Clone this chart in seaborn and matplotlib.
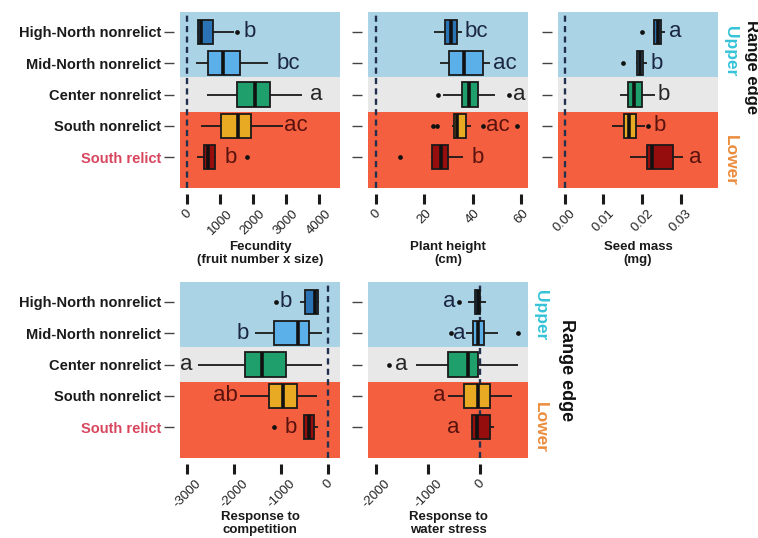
import numpy as np
import pandas as pd
import matplotlib
matplotlib.use("Agg")
import matplotlib.pyplot as plt
import seaborn as sns

sns.set_style("ticks")
plt.rcParams['font.family'] = ['Liberation Sans', 'DejaVu Sans']
plt.rcParams['axes.unicode_minus'] = False

groups = ["High-North nonrelict", "Mid-North nonrelict", "Center nonrelict",
          "South nonrelict", "South relict"]
box_colors = ["#2a73b5", "#5cb0ea", "#1f9f6c", "#e8aa22", "#960d0d"]

# five-number summaries per group: whisker low, Q1, median, Q3, whisker high
fecundity_box = [[300, 330, 430, 800, 1420],
                 [260, 630, 1100, 1600, 2460],
                 [600, 1530, 2060, 2510, 3470],
                 [420, 1020, 1560, 1940, 2920],
                 [290, 515, 650, 850, 880]]
fecundity_out = [[1510], [], [], [], [1810]]
fecundity_letters = ["b", "bc", "a", "ac", "b"]
fecundity_letter_x = [1700, 2720, 3730, 2930, 1150]

height_box = [[24.0, 28.5, 30.9, 33.3, 35.3],
              [26.4, 30.1, 36.4, 44.3, 47.0],
              [27.5, 35.6, 38.4, 42.2, 49.1],
              [31.5, 32.3, 33.3, 37.0, 39.2],
              [22.8, 23.0, 26.8, 29.6, 36.0]]
height_out = [[], [], [25.5, 54.8], [23.6, 25.0, 44.3, 58.0], [9.9]]
height_letters = ["bc", "ac", "a", "ac", "b"]
height_letter_x = [36.7, 48.4, 56.6, 45.4, 39.5]

seed_box = [[0.0229, 0.0232, 0.0241, 0.0249, 0.0260],
            [0.0184, 0.0186, 0.0195, 0.0203, 0.0212],
            [0.0143, 0.0164, 0.0180, 0.0201, 0.0234],
            [0.0121, 0.0154, 0.0166, 0.0184, 0.0207],
            [0.0169, 0.0212, 0.0225, 0.0281, 0.0307]]
seed_out = [[0.0201], [0.0151], [], [0.0215], []]
seed_letters = ["a", "b", "b", "b", "a"]
seed_letter_x = [0.0270, 0.0222, 0.0241, 0.0230, 0.0323]

competition_box = [[-596, -489, -277, -206, -200],
                   [-1553, -1149, -645, -404, -135],
                   [-2759, -1766, -1397, -894, -135],
                   [-1872, -1255, -950, -667, -241],
                   [-520, -511, -400, -291, -206]]
competition_out = [[-1113], [], [], [], [-1142]]
competition_letters = ["b", "b", "a", "ab", "b"]
competition_letter_x = [-1021, -1943, -3149, -2440, -915]

water_box = [[-237, -96, -45, 0, 109],
             [-269, -141, -32, 83, 340],
             [-1237, -622, -224, -45, 724],
             [-609, -301, -32, 192, 609],
             [-173, -147, -64, 192, 276]]
water_out = [[-404], [-558, 724], [-1750], [], []]
water_letters = ["a", "a", "a", "a", "a"]
water_letter_x = [-705, -513, -1635, -897, -641]

W, H = 758, 538
fig = plt.figure(figsize=(W / 100, H / 100), dpi=100)


def px_axes(left, top, right, bottom):
    return fig.add_axes([left / W, 1 - bottom / H, (right - left) / W, (bottom - top) / H])


band_colors = ["#abd3e6", "#e8e8e8", "#f4603f"]
band_edges = [-0.63, 1.445, 2.565, 4.98]
letter_colors = ["#1b2740", "#1b2740", "#262626", "#5a120e", "#5a120e"]


def draw(ax, box, outs, letters, letter_x, xlim, ticks, ticklabels, xlabel):
    rows = [(g, v) for g, vals in zip(groups, box) for v in vals]
    df = pd.DataFrame(rows, columns=["grp", "val"])
    for i, c in enumerate(band_colors):
        ax.axhspan(band_edges[i], band_edges[i + 1], color=c, lw=0, zorder=0)
    ax.axvline(0, color="#223050", lw=1.7, ls=(0, (2.6, 1.8)), zorder=0.5)
    sns.boxplot(data=df, x="val", y="grp", hue="grp", order=groups, hue_order=groups,
                palette=box_colors, saturation=1, whis=(0, 100), showfliers=False,
                showcaps=False, width=0.77, linewidth=1.3, linecolor="#1a1a1a", legend=False,
                medianprops={"linewidth": 2.6, "color": "#111111"}, ax=ax)
    orows = [(g, v) for g, vals in zip(groups, outs) for v in vals]
    if orows:
        odf = pd.DataFrame(orows, columns=["grp", "val"])
        sns.stripplot(data=odf, x="val", y="grp", order=groups, jitter=False,
                      color="#111111", size=3.4, linewidth=0, orient="h", ax=ax)
    for i, (t, x) in enumerate(zip(letters, letter_x)):
        ax.text(x, i, t, ha="left", va="center", fontsize=16, color=letter_colors[i], zorder=5)
    ax.set_xlim(*xlim)
    ax.set_ylim(band_edges[-1], band_edges[0])
    ax.set_xticks(ticks)
    ax.set_xticklabels(ticklabels)
    ax.set_ylabel("")
    ax.set_xlabel(xlabel, fontsize=9.5, fontweight="bold", linespacing=1.1, color="#1a1a1a")
    ax.xaxis.set_label_coords(0.5, -0.3)
    for s in ["top", "right"]:
        ax.spines[s].set_visible(False)
    for s in ["left", "bottom"]:
        ax.spines[s].set_position(("outward", 4))
        ax.spines[s].set_visible(False)
    ax.tick_params(axis="x", length=7, width=2.2, color="#1a1a1a", pad=3,
                   labelsize=9.5, labelrotation=45, labelcolor="#222222")
    ax.tick_params(axis="y", length=7.2, width=1, color="#444444", pad=2.5, labelsize=10.5)


ax1 = px_axes(180, 12, 340, 188)
ax2 = px_axes(368, 12, 528, 188)
ax3 = px_axes(558, 12, 718, 188)
ax4 = px_axes(180, 282, 340, 458)
ax5 = px_axes(368, 282, 528, 458)

draw(ax1, fecundity_box, fecundity_out, fecundity_letters, fecundity_letter_x,
     (-212, 4636), [0, 1000, 2000, 3000, 4000], ["0", "1000", "2000", "3000", "4000"],
     "Fecundity\n(fruit number x size)")
draw(ax2, height_box, height_out, height_letters, height_letter_x,
     (-3.3, 62.7), [0, 20, 40, 60], ["0", "20", "40", "60"],
     "Plant height\n(cm)")
draw(ax3, seed_box, seed_out, seed_letters, seed_letter_x,
     (-0.0018, 0.0397), [0, 0.01, 0.02, 0.03], ["0.00", "0.01", "0.02", "0.03"],
     "Seed mass\n(mg)")
draw(ax4, competition_box, competition_out, competition_letters, competition_letter_x,
     (-3149, 255), [-3000, -2000, -1000, 0], ["-3000", "-2000", "-1000", "0"],
     "Response to\ncompetition")
draw(ax5, water_box, water_out, water_letters, water_letter_x,
     (-2154, 923), [-2000, -1000, 0], ["-2000", "-1000", "0"],
     "Response to\nwater stress")

fig.canvas.draw()
for ax in (ax1, ax4):
    ax.set_yticks(range(len(groups)))
    ax.set_yticklabels(groups)
    labels = ax.get_yticklabels()
    for lab in labels:
        lab.set_fontweight("bold")
        lab.set_fontsize(10.5)
        lab.set_color("#1a1a1a")
    labels[-1].set_color("#d8465e")
for ax in (ax2, ax3, ax5):
    ax.set_yticks(range(len(groups)))
    ax.tick_params(axis="y", labelleft=False)


def ftext(x, y, s, color, size):
    fig.text(x / W, 1 - y / H, s, rotation=270, ha="center", va="center",
             fontsize=size, fontweight="bold", color=color)


ftext(730, 51, "Upper", "#35c3d8", 12.5)
ftext(730, 160, "Lower", "#eb8c3c", 12.5)
ftext(752, 67, "Range edge", "#111111", 12)
ftext(540, 315, "Upper", "#35c3d8", 12.5)
ftext(540, 428, "Lower", "#eb8c3c", 12.5)
ftext(567, 370, "Range edge", "#111111", 13)

fig.savefig("out.png", dpi=100)
